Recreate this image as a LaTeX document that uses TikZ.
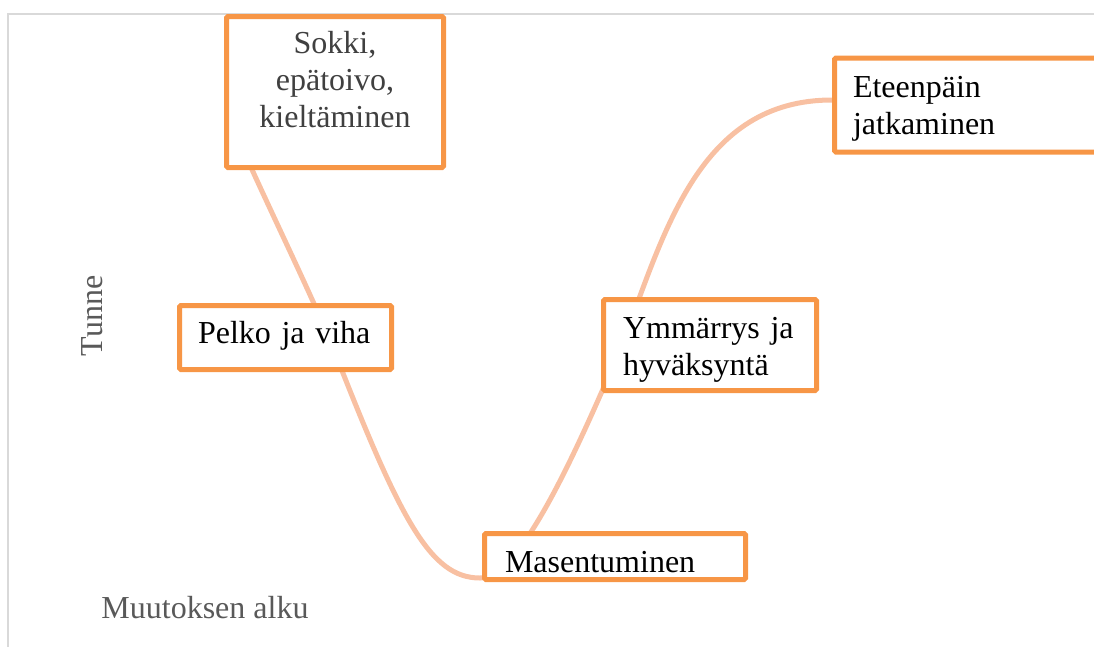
\documentclass[tikz,border=0pt]{standalone}
\usepackage{fontspec}
\setmainfont{Liberation Serif}
\definecolor{boxorange}{RGB}{247,150,70}
\definecolor{curvesalmon}{RGB}{248,192,162}
\definecolor{framegray}{RGB}{217,217,217}
\definecolor{axisgray}{RGB}{89,89,89}
\definecolor{textgray}{RGB}{64,64,64}
\tikzset{
  box/.style={draw=boxorange, line width=5pt, fill=white, rounded corners=1.5pt,
    inner xsep=0pt, inner ysep=0pt, align=left,
    font=\fontsize{32pt}{37pt}\selectfont},
  curve/.style={curvesalmon, line width=5pt},
  axislabel/.style={axisgray, inner sep=0pt, font=\fontsize{32pt}{37pt}\selectfont}
}
\begin{document}
\begin{tikzpicture}[x=1pt,y=-1pt,line cap=round]
  \clip (0,0) rectangle (1094,646);

  % chart frame
  \draw[framegray, line width=1.5pt] (8,700) -- (8,14) -- (1200,14);

  % data points
  \coordinate (p1) at (230,120);
  \coordinate (p2) at (330,340);
  \coordinate (p3) at (480,578);
  \coordinate (p4) at (622,345);
  \coordinate (p5) at (832,100);

  % the curve
  \draw[curve] (p1) .. controls (260,190) and (300,270) .. (p2)
    .. controls (400,520) and (430,578) .. (p3)
    .. controls (520,578) and (575,455) .. (p4)
    .. controls (665,230) and (700,100) .. (p5);

  % data labels
  \node[box, text=textgray, align=center, minimum width=217pt, minimum height=151pt,
    text width=200pt, text height=22pt, text depth=100pt] (sokki) at (335,92)
    {Sokki,\\epätoivo,\\kieltäminen};
  \node[box, minimum width=212pt, minimum height=64pt,
    text width=175pt, text height=22pt, text depth=11pt] (pelko) at (285.5,337.5)
    {Pelko ja viha};
  \node[box, minimum width=261pt, minimum height=46pt,
    text width=220pt, text height=31pt, text depth=0pt] (masennus) at (615,556.5)
    {Masentuminen};
  \node[box, minimum width=213pt, minimum height=91pt,
    text width=174pt, text height=22pt, text depth=36pt] (ymmarrys) at (710,345)
    {Ymmärrys ja\\hyväksyntä};
  \node[box, minimum width=265pt, minimum height=94pt,
    text width=228pt, text height=22pt, text depth=37pt] (eteenpain) at (967,105)
    {Eteenpäin\\jatkaminen};

  % axis titles
  \node[axislabel, rotate=90] (tunne) at (92,316) {Tunne};
  \node[axislabel] (alku) at (205,608) {Muutoksen alku};
\end{tikzpicture}
\end{document}
